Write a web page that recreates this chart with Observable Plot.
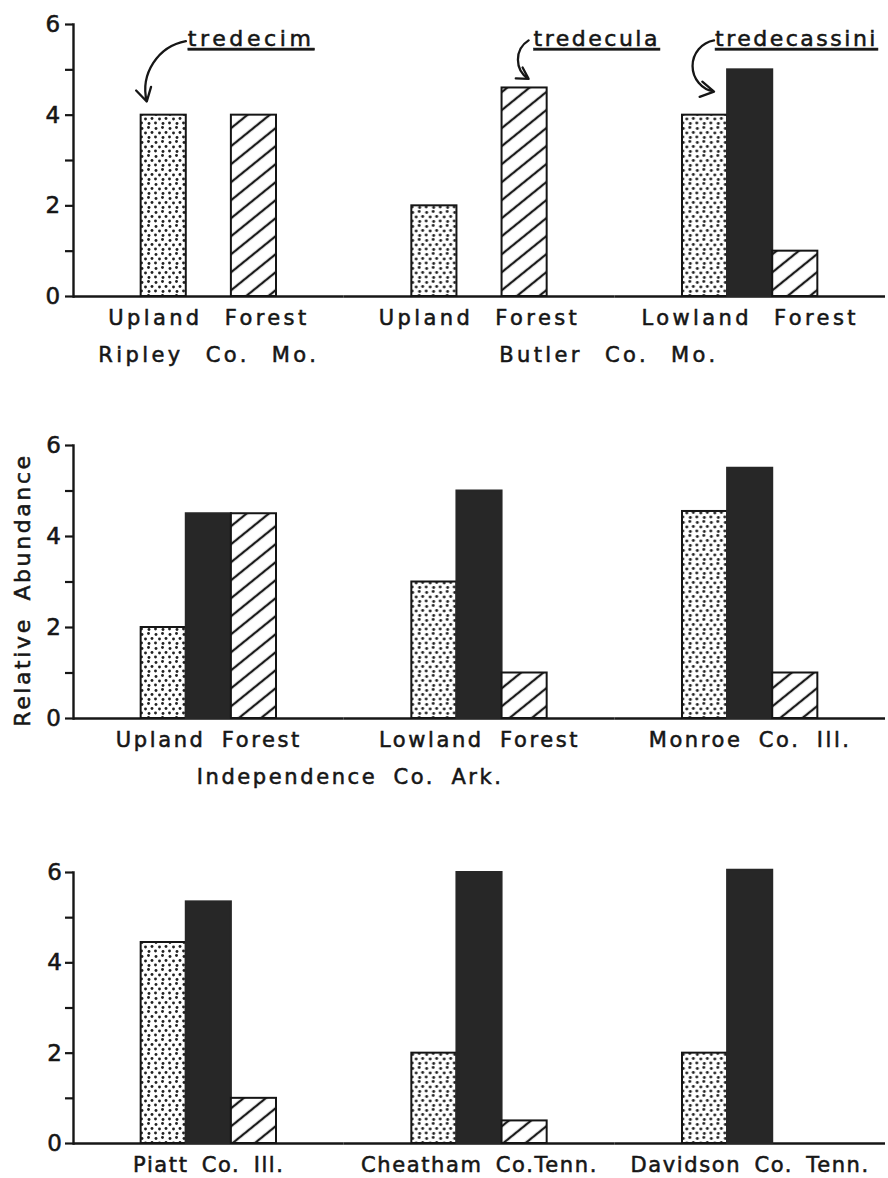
<!DOCTYPE html>
<html><head><meta charset="utf-8">
<script src="https://cdn.jsdelivr.net/npm/d3@7"></script>
<script src="https://cdn.jsdelivr.net/npm/@observablehq/plot@0.6"></script>
<style>
body{margin:0;background:#fff;}
#chart{width:888px;}
.panel svg{display:block;overflow:visible;}
.panel text{stroke:#161616;stroke-width:0.55px;}
.p1 text{letter-spacing:3.4px;word-spacing:12px;}
.p2 text{letter-spacing:2.6px;word-spacing:7px;}
.p3 text{letter-spacing:1.6px;word-spacing:5px;}
</style></head>
<body>
<svg width="0" height="0" style="position:absolute">
<defs>
<pattern id="stipple" width="14" height="14" patternUnits="userSpaceOnUse">
<rect width="14" height="14" fill="#fff"/>
<g fill="#222">
<circle cx="2" cy="2.5" r="1.45"/><circle cx="8.5" cy="1.5" r="1.45"/><circle cx="5.5" cy="7" r="1.45"/>
<circle cx="12" cy="6.5" r="1.45"/><circle cx="1.5" cy="11" r="1.45"/><circle cx="9" cy="11.5" r="1.45"/>
</g>
</pattern>
<pattern id="hatch" width="14" height="14" patternUnits="userSpaceOnUse" patternTransform="rotate(51)">
<rect width="14" height="14" fill="#fff"/>
<line x1="7" y1="-1" x2="7" y2="15" stroke="#1a1a1a" stroke-width="2.3"/>
</pattern>
</defs></svg>
<div id="chart"></div>
<script>
// Series (fill: stipple = tredecim, black = tredecassini, hatch = tredecula)
const series = ["tredecim", "tredecassini", "tredecula"];

// Panel 1 — Missouri
const p1Groups = ["Ripley Upland", "Butler Upland", "Butler Lowland"];
const p1Tredecim = [4, 2, 4];
const p1Tredecassini = [null, null, 5];
const p1Tredecula = [4, 4.6, 1];
const p1Habitat = ["Upland Forest", "Upland Forest", "Lowland Forest"];
const p1Region = ["Ripley Co. Mo.", "Butler Co. Mo."];

// Panel 2 — Arkansas / Illinois
const p2Groups = ["Independence Upland", "Independence Lowland", "Monroe"];
const p2Tredecim = [2, 3, 4.55];
const p2Tredecassini = [4.5, 5, 5.5];
const p2Tredecula = [4.5, 1, 1];
const p2Habitat = ["Upland Forest", "Lowland Forest", "Monroe Co. Ill."];
const p2Region = ["Independence Co. Ark."];

// Panel 3 — Illinois / Tennessee
const p3Groups = ["Piatt", "Cheatham", "Davidson"];
const p3Tredecim = [4.45, 2, 2];
const p3Tredecassini = [5.35, 6, 6.05];
const p3Tredecula = [1, 0.5, null];
const p3Habitat = ["Piatt Co. Ill.", "Cheatham Co.Tenn.", "Davidson Co. Tenn."];

// Annotations (panel 1)
const annLabel = ["tredecim", "tredecula", "tredecassini"];
const annGroup = ["Ripley Upland", "Butler Upland", "Butler Lowland"];
const annTextY = [5.68, 5.68, 5.68];
const annArrowEnd = [4.3, 4.8, 4.52];

const yTicks = [0, 1, 2, 3, 4, 5, 6];
const yLabel = "Relative Abundance";

const fills = {tredecim: "url(#stipple)", tredecassini: "#272727", tredecula: "url(#hatch)"};
const strokes = {tredecim: "#151515", tredecassini: "#272727", tredecula: "#151515"};

function rows(groups, a, b, c) {
  const vals = [a, b, c];
  return groups.flatMap((g, i) => series.map((s, j) => ({group: g, series: s, value: vals[j][i]})))
    .filter(d => d.value != null);
}

function panel({groups, data, habitat, height, marginTop, marginBottom, extra = []}) {
  return Plot.plot({
    width: 888, height, marginLeft: 73, marginRight: 3, marginTop, marginBottom,
    style: {fontFamily: "DejaVu Sans", fontSize: "21px", color: "#161616", background: "#fff", overflow: "visible"},
    fx: {domain: groups, paddingInner: 0, paddingOuter: 0, round: false, axis: null, label: null},
    x: {domain: series, paddingInner: 0, paddingOuter: 1.5, round: false, axis: null, label: null},
    y: {domain: [0, 6], round: false},
    marks: [
      Plot.frame({anchor: "left", facetAnchor: "left", stroke: "#161616", strokeWidth: 2.4}),
      Plot.axisY({ticks: yTicks, tickFormat: d => d % 2 ? "" : String(d), tickSize: 8, tickPadding: 2,
        strokeWidth: 2.2, fontSize: 23, label: null}),
      Plot.ruleY([0], {stroke: "#161616", strokeWidth: 2.5}),
      ...series.map(s => Plot.barY(data.filter(d => d.series === s), {
        fx: "group", x: "series", y: "value", fill: fills[s], stroke: strokes[s], strokeWidth: 2
      })),
      Plot.text(groups.map((g, i) => ({group: g, label: habitat[i]})), {
        fx: "group", text: "label", frameAnchor: "bottom", lineAnchor: "middle", dy: 22
      }),
      ...extra
    ]
  });
}

const chart = document.getElementById("chart");
function add(svg, cls) { const d = document.createElement("div"); d.className = "panel " + cls; d.appendChild(svg); chart.appendChild(d); }

// Panel 1 annotations
const annMarks = [];
const annDx = [-21, 9, 10];
const annSlot = ["tredecassini", "tredecula", "tredecim"];
const arrowFrom = ["tredecassini", "tredecula", "tredecim"];
const arrowTo = ["tredecim", "tredecula", "tredecim"];
const arrowDx = [-17, 4, 9];
const arrowBend = [-50, -58, -80];
annLabel.forEach((lab, i) => {
  annMarks.push(Plot.text([{group: annGroup[i], label: lab, y: annTextY[i]}], {
    fx: "group", x: () => annSlot[i], y: "y", text: "label", textAnchor: "start", dx: annDx[i],
    fontSize: 22
  }));
  annMarks.push(Plot.arrow([{group: annGroup[i], y1: annTextY[i] - 0.03, y2: annArrowEnd[i]}], {
    fx: "group", x1: () => arrowFrom[i], x2: () => arrowTo[i], y1: "y1", y2: "y2",
    dx: arrowDx[i], bend: arrowBend[i], stroke: "#161616", strokeWidth: 2.3, headLength: 10, insetStart: i === 0 ? 6 : 0
  }));
});

add(panel({
  groups: p1Groups, data: rows(p1Groups, p1Tredecim, p1Tredecassini, p1Tredecula), habitat: p1Habitat,
  height: 380, marginTop: 24, marginBottom: 84,
  extra: [
    Plot.text([{group: p1Groups[0], label: p1Region[0]}], {fx: "group", text: "label", frameAnchor: "bottom", lineAnchor: "middle", dy: 59}),
    Plot.text([{group: p1Groups[1], label: p1Region[1]}], {fx: "group", text: "label", frameAnchor: "bottom-right", textAnchor: "middle", lineAnchor: "middle", dy: 59, dx: -6}),
    ...annMarks
  ]
}), "p1");

add(panel({
  groups: p2Groups, data: rows(p2Groups, p2Tredecim, p2Tredecassini, p2Tredecula), habitat: p2Habitat,
  height: 420, marginTop: 65, marginBottom: 82,
  extra: [
    Plot.text([{group: p2Groups[0], label: p2Region[0]}], {fx: "group", text: "label", frameAnchor: "bottom-right", textAnchor: "middle", lineAnchor: "middle", dy: 59, dx: 6}),
    Plot.text([{group: p2Groups[0], label: yLabel}], {fx: "group", text: "label", frameAnchor: "left", rotate: -90, textAnchor: "middle", lineAnchor: "middle", dx: -51, dy: 8, fontSize: 22})
  ]
}), "p2");

add(panel({
  groups: p3Groups, data: rows(p3Groups, p3Tredecim, p3Tredecassini, p3Tredecula), habitat: p3Habitat,
  height: 378, marginTop: 72, marginBottom: 35
}), "p3");

// underline the species annotations (text decoration only)
document.querySelectorAll(".p1 text").forEach(t => {
  const k = annLabel.indexOf(t.textContent);
  if (k >= 0) {
    t.setAttribute("text-decoration", "underline");
    t.style.letterSpacing = k === 0 ? "3.6px" : "2.5px";
  }
});
</script>
</body></html>
